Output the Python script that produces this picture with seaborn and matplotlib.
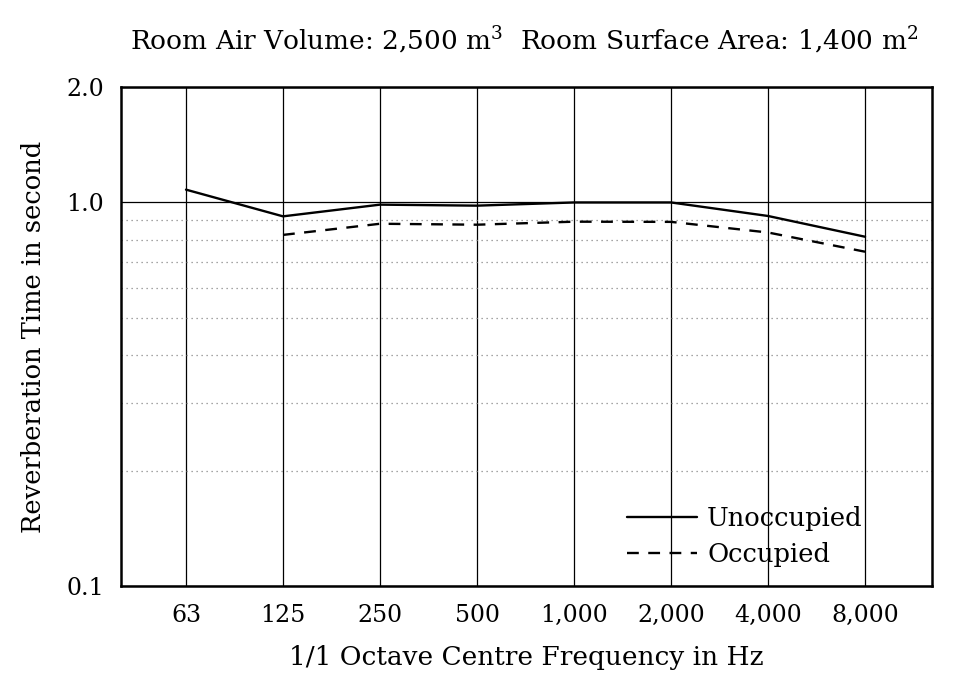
import matplotlib
matplotlib.use("Agg")
import matplotlib.pyplot as plt
import seaborn as sns
import pandas as pd
import numpy as np
from matplotlib.ticker import FixedLocator, NullFormatter

frequencies = ["63", "125", "250", "500", "1,000", "2,000", "4,000", "8,000"]
unoccupied = [1.08, 0.92, 0.987, 0.981, 1.0, 1.0, 0.922, 0.814]
occupied = [np.nan, 0.823, 0.880, 0.875, 0.891, 0.89, 0.835, 0.744]
series_names = ["Unoccupied", "Occupied"]
y_tick_values = [0.1, 1.0, 2.0]
y_tick_labels = ["0.1", "1.0", "2.0"]
minor_grid = [0.2, 0.3, 0.4, 0.5, 0.6, 0.7, 0.8, 0.9]

df = pd.DataFrame({
    "freq": frequencies * 2,
    "rt": unoccupied + occupied,
    "series": [series_names[0]] * len(frequencies) + [series_names[1]] * len(frequencies),
}).dropna()

sns.set_theme(style="white")
plt.rcParams["font.family"] = ["DejaVu Serif"]
plt.rcParams["mathtext.fontset"] = "dejavuserif"
plt.rcParams["text.color"] = "black"

fig = plt.figure(figsize=(9.67, 6.95), dpi=100)
ax = fig.add_axes([121 / 967, 1 - 586 / 695, (932 - 121) / 967, (586 - 87) / 695])

sns.lineplot(data=df, x="freq", y="rt", style="series", sort=False,
             dashes={"Unoccupied": "", "Occupied": (5, 4)},
             color="black", linewidth=1.7, ax=ax, legend=True)

ax.set_yscale("log")
ax.set_ylim(0.1, 2.0)
ax.set_xlim(-0.67, 7.69)
ax.yaxis.set_major_locator(FixedLocator(y_tick_values))
ax.set_yticklabels(y_tick_labels)
ax.yaxis.set_minor_locator(FixedLocator(minor_grid))
ax.yaxis.set_minor_formatter(NullFormatter())
ax.tick_params(axis="both", which="both", length=0, labelsize=17, colors="black")
ax.tick_params(axis="x", pad=13)
ax.tick_params(axis="y", pad=12)

ax.grid(False)
ax.xaxis.grid(True, color="black", linewidth=0.9)
ax.yaxis.grid(True, which="major", color="black", linewidth=0.9)
ax.yaxis.grid(True, which="minor", color="#888888", linewidth=0.9, linestyle=(0, (1, 3)))
ax.set_axisbelow(True)

for s in ax.spines.values():
    s.set_visible(True)
    s.set_color("black")
    s.set_linewidth(1.8)

ax.set_xlabel("1/1 Octave Centre Frequency in Hz", fontsize=19, labelpad=13, color="black")
ax.set_ylabel("Reverberation Time in second", fontsize=18.5, labelpad=15, color="black")
fig.text((130 + 918) / 2 / 967, 1 - 40 / 695,
         "Room Air Volume: 2,500 m$^3$  Room Surface Area: 1,400 m$^2$",
         ha="center", va="center", fontsize=19, color="black")

leg = ax.legend(loc="lower right", frameon=False, fontsize=18.5, handlelength=2.7,
                bbox_to_anchor=(0.943, -0.009), labelspacing=0.45, handletextpad=0.4)
for t in leg.get_texts():
    t.set_color("black")
for l in leg.get_lines():
    l.set_color("black")
    l.set_linewidth(1.7)

fig.savefig("out.png", dpi=100)
